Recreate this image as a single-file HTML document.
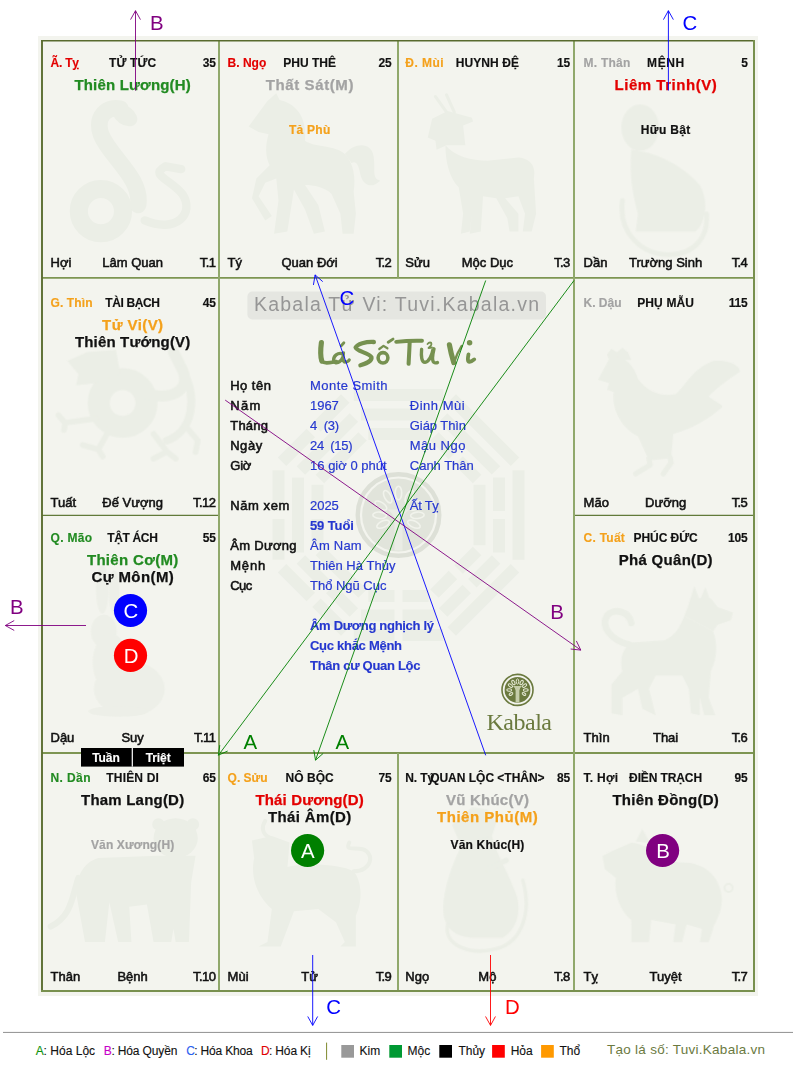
<!DOCTYPE html>
<html lang="vi"><head><meta charset="utf-8"><title>Lá Số Tử Vi</title>
<style>
html,body{margin:0;padding:0;background:#fff;}
body{width:796px;height:1070px;position:relative;overflow:hidden;font-family:"Liberation Sans",sans-serif;}
.t{position:absolute;white-space:pre;line-height:1;}
.big{z-index:3;}
#fgsvg{z-index:2;}
svg{position:absolute;left:0;top:0;}
.bx{position:absolute;}
.hdr{font:normal 700 12px/1 "Liberation Sans",sans-serif;-webkit-text-stroke:0.15px currentColor;}
.star{font:normal 700 15px/1 "Liberation Sans",sans-serif;-webkit-text-stroke:0.25px currentColor;}
.sub{font:normal 700 12px/1 "Liberation Sans",sans-serif;-webkit-text-stroke:0.2px currentColor;}
.bot{font:normal 400 13px/1 "Liberation Sans",sans-serif;-webkit-text-stroke:0.55px currentColor;}
.lbl{font:normal 400 13px/1 "Liberation Sans",sans-serif;-webkit-text-stroke:0.55px currentColor;}
.val{font:normal 400 13px/1 "Liberation Sans",sans-serif;-webkit-text-stroke:0.2px currentColor;}
.valb{font:normal 700 13px/1 "Liberation Sans",sans-serif;-webkit-text-stroke:0.15px currentColor;}
.big{font:normal 400 20.4px/1 "Liberation Sans",sans-serif;}
.ban{font:normal 400 19.5px/1 "Liberation Sans",sans-serif;}
.title{font:italic 700 32px/1 "Liberation Serif",serif;}
.kab{font:normal 400 24px/1 "Liberation Serif",serif;}
.leg{font:normal 400 12px/1 "Liberation Sans",sans-serif;-webkit-text-stroke:0.12px currentColor;}
.foot{font:normal 400 13.5px/1 "Liberation Sans",sans-serif;}
</style></head><body>
<svg id="bgsvg" width="796" height="1070" viewBox="0 0 796 1070">
<rect x="38" y="36" width="720" height="960" fill="#f3f4ee"/>
<defs><filter id="bl" x="-5%" y="-5%" width="110%" height="110%"><feGaussianBlur stdDeviation="0.7"/></filter></defs>
<g filter="url(#bl)">
<g transform="translate(43 90) scale(0.2211)" fill="#ebeee6" stroke="#ebeee6" stroke-linecap="round" stroke-linejoin="round" stroke-width="0" opacity="1.0"><circle cx="262" cy="548" r="100" fill="none" stroke-width="82"/><path d="M430 520C450 400 300 300 262 200C235 120 290 70 350 85" fill="none" stroke-width="75"/><ellipse cx="370" cy="115" rx="62" ry="42" transform="rotate(35 370 115)"/><path d="M460 590C600 650 690 560 630 470C570 400 480 385 555 345L625 358" fill="none" stroke-width="38"/></g>
<g transform="translate(221 90) scale(0.2211)" fill="#ebeee6" stroke="#ebeee6" stroke-linecap="round" stroke-linejoin="round" stroke-width="0" opacity="1.0"><path d="M125 165L210 50L250 15L265 45C330 60 390 110 380 230C420 260 520 250 560 290C600 330 610 400 600 460L610 560L600 650L550 650L540 560L500 470C470 440 420 430 380 430L440 520L470 640L420 650L380 540L330 450L300 640L240 650L260 500L250 400L200 420L170 480L230 570L200 590L140 490L160 400L220 340C200 300 200 250 215 200L170 190Z"  stroke-width="0"/><path d="M560 290C600 240 680 230 690 300C700 360 680 400 720 410C680 450 640 430 630 380C620 330 610 320 590 330Z"  stroke-width="0"/></g>
<g transform="translate(399 90) scale(0.2211)" fill="#ebeee6" stroke="#ebeee6" stroke-linecap="round" stroke-linejoin="round" stroke-width="0" opacity="1.0"><path d="M215 100L165 30M250 100L215 22" fill="none" stroke-width="14"/><path d="M130 215L150 130L220 95L330 125L335 142L290 160L300 250L215 250L170 270L165 230Z"  stroke-width="0"/><path d="M210 250C250 300 330 320 400 320L540 305C600 310 620 350 610 400L620 560L600 640L560 640L570 560L540 480L480 490L540 560L540 640L500 640L490 580L440 490L380 480L370 640L320 650L330 560L320 640L280 650L290 560L270 440C230 400 210 330 210 250Z"  stroke-width="0"/></g>
<g transform="translate(576 90) scale(0.2211)" fill="#ebeee6" stroke="#ebeee6" stroke-linecap="round" stroke-linejoin="round" stroke-width="0" opacity="1.0"><ellipse cx="290" cy="170" rx="85" ry="105"/><path d="M250 270C350 280 470 330 560 430C600 500 590 600 540 640L270 640L280 560C260 480 240 400 250 270Z"  stroke-width="0"/><path d="M210 500C190 650 300 745 420 745C540 745 600 660 590 560" fill="none" stroke-width="22"/></g>
<g transform="translate(43 330) scale(0.2211)" fill="#ebeee6" stroke="#ebeee6" stroke-linecap="round" stroke-linejoin="round" stroke-width="0" opacity="1.0"><circle cx="360" cy="330" r="108" fill="none" stroke-width="100"/><path d="M110 140L200 100L330 90L350 200L240 240L150 250L160 200Z"  stroke-width="0"/><path d="M470 290C600 320 680 260 620 160L590 100" fill="none" stroke-width="50"/><path d="M630 180C700 300 680 460 560 500" fill="none" stroke-width="36"/><path d="M240 400L100 420L70 385M100 420L95 452M300 450L250 540L180 520M250 540L270 572M500 470L560 550L500 582M560 550L600 582M640 430L700 500L690 552" fill="none" stroke-width="26"/></g>
<g transform="translate(576 330) scale(0.2211)" fill="#ebeee6" stroke="#ebeee6" stroke-linecap="round" stroke-linejoin="round" stroke-width="0" opacity="1.0"><path d="M140 110L160 85L185 100L210 80L235 100L250 135L150 135Z"  stroke-width="0"/><path d="M100 225L150 130C200 100 260 150 280 220C330 290 400 300 450 290C500 250 520 180 620 140C700 130 750 170 740 190C680 230 640 260 600 300C640 330 670 340 660 350C600 400 540 440 440 470L430 580L330 590L280 480C200 440 160 350 170 280L140 270L150 240Z"  stroke-width="0"/><path d="M330 580L335 610L270 650M425 575L430 600L395 650" fill="none" stroke-width="24"/></g>
<g transform="translate(43 565) scale(0.2211)" fill="#ebeee6" stroke="#ebeee6" stroke-linecap="round" stroke-linejoin="round" stroke-width="0" opacity="0.75"><ellipse cx="268" cy="110" rx="28" ry="110"/><ellipse cx="322" cy="125" rx="24" ry="100"/><ellipse cx="275" cy="300" rx="58" ry="75"/><ellipse cx="305" cy="440" rx="80" ry="130"/><ellipse cx="390" cy="560" rx="160" ry="125"/><ellipse cx="340" cy="662" rx="135" ry="24"/></g>
<g transform="translate(576 565) scale(0.2211)" fill="#ebeee6" stroke="#ebeee6" stroke-linecap="round" stroke-linejoin="round" stroke-width="0" opacity="1.0"><path d="M510 175L535 95L560 160L585 100L607 160Z"  stroke-width="0"/><path d="M490 230L520 150L610 150L640 190L710 215L700 250L640 270L620 300Z"  stroke-width="0"/><path d="M490 230C470 280 450 320 400 340L250 350C200 380 200 450 210 480L160 540L160 670L210 680L210 600L280 560L300 650L360 680L350 640L330 560L360 500L480 500L510 560L520 670L560 680L560 600L580 680L630 680L600 600L610 480C640 420 640 350 620 300Z"  stroke-width="0"/><path d="M240 360C160 340 110 280 140 230C170 190 240 210 250 262" fill="none" stroke-width="30"/></g>
<g transform="translate(43 805) scale(0.2211)" fill="#ebeee6" stroke="#ebeee6" stroke-linecap="round" stroke-linejoin="round" stroke-width="0" opacity="1.0"><ellipse cx="600" cy="150" rx="100" ry="90"/><circle cx="522" cy="88" r="28"/><circle cx="678" cy="88" r="28"/><path d="M520 230L250 240C180 260 150 330 150 400L190 620L280 620L300 440L340 620L400 620L390 460L470 450L500 620L580 620L590 560L600 620L660 620L670 350L690 230Z"  stroke-width="0"/><path d="M160 330C130 420 130 500 35 550" fill="none" stroke-width="28"/></g>
<g transform="translate(221 805) scale(0.2211)" fill="#ebeee6" stroke="#ebeee6" stroke-linecap="round" stroke-linejoin="round" stroke-width="0" opacity="1.0"><path d="M225 150C180 130 185 95 200 72" fill="none" stroke-width="18"/><path d="M140 160L230 140L310 170L300 290L210 300L150 240Z"  stroke-width="0"/><path d="M150 240C130 330 170 420 230 470L210 620L170 640L270 640L330 480L440 470L520 530L560 620L540 640L610 640L610 500C640 440 640 350 600 300C540 270 400 260 300 280Z"  stroke-width="0"/><path d="M600 300C680 300 700 220 640 200C600 190 560 210 580 170" fill="none" stroke-width="18"/></g>
<g transform="translate(399 805) scale(0.2211)" fill="#ebeee6" stroke="#ebeee6" stroke-linecap="round" stroke-linejoin="round" stroke-width="0" opacity="1.0"><path d="M240 90L330 10L400 20L440 80L420 140L330 180L270 160Z"  stroke-width="0"/><path d="M290 170C240 260 200 380 200 470C200 560 260 600 340 600L470 600C540 560 560 460 520 380C500 320 440 220 420 140Z"  stroke-width="0"/><path d="M400 290L485 250" fill="none" stroke-width="24"/><path d="M220 540C200 640 330 680 440 650C560 620 600 480 560 340" fill="none" stroke-width="16"/></g>
<g transform="translate(576 805) scale(0.2211)" fill="#ebeee6" stroke="#ebeee6" stroke-linecap="round" stroke-linejoin="round" stroke-width="0" opacity="1.0"><path d="M270 165L300 108L335 172Z"  stroke-width="0"/><path d="M120 230L160 210L250 170C350 180 400 260 480 260C580 260 650 320 660 420C660 500 620 540 620 560L600 620L560 620L570 560L500 540L480 620L440 620L450 540L340 520L330 620L250 620L250 520C200 480 170 400 180 330L130 290Z"  stroke-width="0"/><circle cx="690" cy="375" r="18" fill="none" stroke-width="9"/></g>
<g fill="#ebeee6"><g transform="rotate(0 398.5 515.0)"><rect x="368.3" y="428.0" width="60.4" height="12.0"/><rect x="361.0" y="408.5" width="74.9" height="12.0"/><rect x="353.8" y="389.0" width="89.5" height="12.0"/></g><g transform="rotate(45 398.5 515.0)"><rect x="368.3" y="428.0" width="26.2" height="12.0"/><rect x="402.5" y="428.0" width="26.2" height="12.0"/><rect x="361.0" y="408.5" width="74.9" height="12.0"/><rect x="353.8" y="389.0" width="89.5" height="12.0"/></g><g transform="rotate(90 398.5 515.0)"><rect x="368.3" y="428.0" width="60.4" height="12.0"/><rect x="361.0" y="408.5" width="33.5" height="12.0"/><rect x="402.5" y="408.5" width="33.5" height="12.0"/><rect x="353.8" y="389.0" width="89.5" height="12.0"/></g><g transform="rotate(135 398.5 515.0)"><rect x="368.3" y="428.0" width="26.2" height="12.0"/><rect x="402.5" y="428.0" width="26.2" height="12.0"/><rect x="361.0" y="408.5" width="33.5" height="12.0"/><rect x="402.5" y="408.5" width="33.5" height="12.0"/><rect x="353.8" y="389.0" width="89.5" height="12.0"/></g><g transform="rotate(180 398.5 515.0)"><rect x="368.3" y="428.0" width="26.2" height="12.0"/><rect x="402.5" y="428.0" width="26.2" height="12.0"/><rect x="361.0" y="408.5" width="33.5" height="12.0"/><rect x="402.5" y="408.5" width="33.5" height="12.0"/><rect x="353.8" y="389.0" width="40.7" height="12.0"/><rect x="402.5" y="389.0" width="40.7" height="12.0"/></g><g transform="rotate(225 398.5 515.0)"><rect x="368.3" y="428.0" width="60.4" height="12.0"/><rect x="361.0" y="408.5" width="33.5" height="12.0"/><rect x="402.5" y="408.5" width="33.5" height="12.0"/><rect x="353.8" y="389.0" width="40.7" height="12.0"/><rect x="402.5" y="389.0" width="40.7" height="12.0"/></g><g transform="rotate(270 398.5 515.0)"><rect x="368.3" y="428.0" width="26.2" height="12.0"/><rect x="402.5" y="428.0" width="26.2" height="12.0"/><rect x="361.0" y="408.5" width="74.9" height="12.0"/><rect x="353.8" y="389.0" width="40.7" height="12.0"/><rect x="402.5" y="389.0" width="40.7" height="12.0"/></g><g transform="rotate(315 398.5 515.0)"><rect x="368.3" y="428.0" width="60.4" height="12.0"/><rect x="361.0" y="408.5" width="74.9" height="12.0"/><rect x="353.8" y="389.0" width="40.7" height="12.0"/><rect x="402.5" y="389.0" width="40.7" height="12.0"/></g></g><circle cx="398.5" cy="515.0" r="40.8" fill="none" stroke="#dde0d7" stroke-width="4.4"/><circle cx="398.5" cy="515.0" r="36.4" fill="#e1e4db"/><g fill="none" stroke="#f1f3ec" stroke-width="1.6"><ellipse cx="398.5" cy="493.0" rx="3.2" ry="6.8" transform="rotate(0 398.5 493.0)"/><ellipse cx="409.3" cy="496.7" rx="3.2" ry="6.8" transform="rotate(28 409.3 496.7)"/><ellipse cx="387.7" cy="496.7" rx="3.2" ry="6.8" transform="rotate(-28 387.7 496.7)"/><ellipse cx="416.1" cy="505.6" rx="3.2" ry="6.8" transform="rotate(57 416.1 505.6)"/><ellipse cx="380.9" cy="505.6" rx="3.2" ry="6.8" transform="rotate(-57 380.9 505.6)"/><ellipse cx="417.4" cy="515.3" rx="3.2" ry="6.8" transform="rotate(85 417.4 515.3)"/><ellipse cx="379.6" cy="515.3" rx="3.2" ry="6.8" transform="rotate(275 379.6 515.3)"/><ellipse cx="413.9" cy="524.2" rx="3.2" ry="6.8" transform="rotate(115 413.9 524.2)"/><ellipse cx="383.1" cy="524.2" rx="3.2" ry="6.8" transform="rotate(245 383.1 524.2)"/></g><path d="M394.5 550.5v-30q0 -6 -7 -11h22q-7 5 -7 11v30z" fill="#eaece5"/>
</g>
<g fill="none">
<path d="M42 277.8H754M42 753H754" stroke="#7d9552" stroke-width="1.8"/>
<path d="M42 515.4H219M574 515.4H754" stroke="#617a3a" stroke-width="1.35"/>
<path d="M219 41V991M574 41V991M398 41V277.7M398 753V991" stroke="#90a86b" stroke-width="2"/>
<path d="M41 40.7H755" stroke="#586a2e" stroke-width="1.5"/>
<path d="M42 40V992" stroke="#5a6d30" stroke-width="1.9"/>
<path d="M754 40V992M41 991H755" stroke="#78904e" stroke-width="2"/>
</g>
<rect x="247.4" y="291.6" width="298.6" height="27.8" rx="5" fill="#e5e6e1"/>
<g id="title" fill="none" stroke="#769150" stroke-linecap="round" stroke-linejoin="round">
<path d="M321.4 342.6C320.4 350 320.5 357 321.8 361" stroke-width="5.15"/>
<path d="M321.8 361.3C324.5 364 330 362.6 336.5 361.6" stroke-width="3.70"/>
<path d="M342.8 353.9C338 352 332.8 356 333.7 361C335 364.6 341 362.6 342.9 357M343.5 352.8C342.8 357 342.5 362 345.2 362C347 362 348.6 361 349.2 360" stroke-width="3.25"/>
<path d="M341.2 345.8L343.9 342.8" stroke-width="2.80"/>
<path d="M373.9 342C366 341.5 357 344 355.6 347.6C356 351 369 353 371.4 357C372.4 361 365 364 360.4 365.3" stroke-width="4.26"/>
<ellipse cx="383" cy="357.8" rx="4.9" ry="5.2" stroke-width="3.58"/>
<path d="M379.3 349L383.5 345.9L387.4 348.3" stroke-width="2.24"/>
<path d="M388.2 342.3L393 339.1" stroke-width="2.91"/>
<path d="M396.2 341.9C404 341 414 340.6 422 340.8" stroke-width="3.92"/>
<path d="M409.7 341.6C409.4 349 409 357 408.6 363.8" stroke-width="4.03"/>
<path d="M421.6 349.3C421 356 421.5 362.4 425 362.4C429 362 432 355 432.9 349.9M434 348.8C432.5 355 431.5 362 434.5 362.7C436 363 437 362.8 437.5 362.5" stroke-width="3.36"/>
<path d="M427.5 344C429 342 431.5 342 431.5 344C431.5 346 429 347 428.5 348L432 347.5" stroke-width="1.79"/>
<path d="M449.4 344.8C450.5 351 452 357 453.8 362.6" stroke-width="5.15"/>
<path d="M453.9 362.8C456 356 459 350 461.7 345.9" stroke-width="2.35"/>
<path d="M468.5 354.4C468 357 467 361.8 469.5 361.8C471.5 361.6 473 360.5 474.2 359.4" stroke-width="3.81"/>
<circle cx="469.6" cy="342.8" r="1.3" stroke-width="2.91"/>
</g>
<rect x="81" y="748" width="103" height="18.6" fill="#000"/>
<rect x="131.7" y="748" width="1.2" height="18.6" fill="#fff"/>
<circle cx="130.5" cy="610.5" r="16.6" fill="#0000ff"/>
<circle cx="130.5" cy="655.4" r="16.6" fill="#ff0000"/>
<circle cx="307.6" cy="850.5" r="16.6" fill="#008000"/>
<circle cx="662.6" cy="850.5" r="16.6" fill="#800080"/>
<g id="logo">
<circle cx="517.5" cy="689.9" r="15.5" fill="none" stroke="#6b7a3f" stroke-width="1.6"/>
<circle cx="517.5" cy="689.9" r="12.9" fill="#6b7a3f"/>
<path d="M515.6 702.4V690.5q0-2.6-2.6-4.6h9q-2.6 2-2.6 4.6V702.4Z" fill="#c5cdaa"/>
<g fill="none" stroke="#e6ead6" stroke-width="1">
<ellipse cx="517.5" cy="681.5" rx="1.3" ry="2.6"/>
<ellipse cx="513.4" cy="682.6" rx="1.3" ry="2.4" transform="rotate(-28 513.4 682.6)"/>
<ellipse cx="521.6" cy="682.6" rx="1.3" ry="2.4" transform="rotate(28 521.6 682.6)"/>
<ellipse cx="510.4" cy="685.6" rx="1.3" ry="2.4" transform="rotate(-55 510.4 685.6)"/>
<ellipse cx="524.6" cy="685.6" rx="1.3" ry="2.4" transform="rotate(55 524.6 685.6)"/>
<ellipse cx="509.2" cy="690" rx="1.3" ry="2.4" transform="rotate(-85 509.2 690)"/>
<ellipse cx="525.8" cy="690" rx="1.3" ry="2.4" transform="rotate(85 525.8 690)"/>
<ellipse cx="511" cy="694" rx="1.1" ry="2" transform="rotate(-120 511 694)"/>
<ellipse cx="524" cy="694" rx="1.1" ry="2" transform="rotate(120 524 694)"/>
</g></g>
<!-- legend -->
<rect x="3" y="1031.9" width="790" height="1.1" fill="#9a9a9a"/>
<rect x="326" y="1042.6" width="1.1" height="17.2" fill="#8a9440"/>
<rect x="341.3" y="1045" width="12.7" height="12.7" fill="#999999"/>
<rect x="389.3" y="1045" width="12.7" height="12.7" fill="#009933"/>
<rect x="439.3" y="1045" width="12.7" height="12.7" fill="#000000"/>
<rect x="492.1" y="1045" width="12.7" height="12.7" fill="#ff0000"/>
<rect x="541.1" y="1045" width="12.7" height="12.7" fill="#ff9900"/>
</svg>
<span id="t0" class="t hdr" style="left:50.50px;top:56.64px;color:#e30000;letter-spacing:-0.211px;">Ã. Tỵ</span>
<span id="t1" class="t hdr" style="left:109.10px;top:56.64px;color:#111111;letter-spacing:0.084px;">TỬ TỨC</span>
<span id="t2" class="t hdr" style="left:202.64px;top:56.64px;color:#111111;letter-spacing:-0.100px;">35</span>
<span id="t3" class="t star" style="left:74.40px;top:76.70px;color:#228b22;letter-spacing:0.183px;">Thiên Lương(H)</span>
<span id="t4" class="t bot" style="left:50.50px;top:256.10px;color:#111111;">Hợi</span>
<span id="t5" class="t bot" style="left:102.25px;top:256.10px;color:#111111;">Lâm Quan</span>
<span id="t6" class="t bot" style="left:199.76px;top:256.10px;color:#111111;letter-spacing:-0.600px;">T.1</span>
<span id="t7" class="t hdr" style="left:227.60px;top:56.64px;color:#e30000;letter-spacing:0.006px;">B. Ngọ</span>
<span id="t8" class="t hdr" style="left:283.30px;top:56.64px;color:#111111;letter-spacing:-0.012px;">PHU THÊ</span>
<span id="t9" class="t hdr" style="left:378.54px;top:56.64px;color:#111111;letter-spacing:-0.100px;">25</span>
<span id="t10" class="t star" style="left:265.80px;top:76.70px;color:#a3a3a3;letter-spacing:0.593px;">Thất Sát(M)</span>
<span id="t11" class="t sub" style="left:288.95px;top:124.14px;color:#f4a11c;letter-spacing:0.257px;">Tả Phù</span>
<span id="t12" class="t bot" style="left:227.60px;top:256.10px;color:#111111;">Tý</span>
<span id="t13" class="t bot" style="left:281.49px;top:256.10px;color:#111111;">Quan Đới</span>
<span id="t14" class="t bot" style="left:375.66px;top:256.10px;color:#111111;letter-spacing:-0.600px;">T.2</span>
<span id="t15" class="t hdr" style="left:405.30px;top:56.64px;color:#f4a11c;letter-spacing:0.440px;">Đ. Mùi</span>
<span id="t16" class="t hdr" style="left:455.75px;top:56.64px;color:#111111;letter-spacing:0.090px;">HUYNH ĐỆ</span>
<span id="t17" class="t hdr" style="left:556.94px;top:56.64px;color:#111111;letter-spacing:-0.100px;">15</span>
<span id="t18" class="t bot" style="left:405.30px;top:256.10px;color:#111111;">Sửu</span>
<span id="t19" class="t bot" style="left:461.75px;top:256.10px;color:#111111;">Mộc Dục</span>
<span id="t20" class="t bot" style="left:554.06px;top:256.10px;color:#111111;letter-spacing:-0.600px;">T.3</span>
<span id="t21" class="t hdr" style="left:583.60px;top:56.64px;color:#a3a3a3;letter-spacing:0.229px;">M. Thân</span>
<span id="t22" class="t hdr" style="left:647.10px;top:56.64px;color:#111111;letter-spacing:0.552px;">MỆNH</span>
<span id="t23" class="t hdr" style="left:741.21px;top:56.64px;color:#111111;letter-spacing:-0.100px;">5</span>
<span id="t24" class="t star" style="left:614.50px;top:76.70px;color:#e30000;letter-spacing:0.530px;">Liêm Trinh(V)</span>
<span id="t25" class="t sub" style="left:640.85px;top:124.14px;color:#111111;letter-spacing:0.357px;">Hữu Bật</span>
<span id="t26" class="t bot" style="left:583.60px;top:256.10px;color:#111111;">Dần</span>
<span id="t27" class="t bot" style="left:629.05px;top:256.10px;color:#111111;">Trường Sinh</span>
<span id="t28" class="t bot" style="left:731.66px;top:256.10px;color:#111111;letter-spacing:-0.600px;">T.4</span>
<span id="t29" class="t hdr" style="left:50.50px;top:296.54px;color:#f4a11c;letter-spacing:0.112px;">G. Thìn</span>
<span id="t30" class="t hdr" style="left:105.35px;top:296.54px;color:#111111;letter-spacing:-0.404px;">TÀI BẠCH</span>
<span id="t31" class="t hdr" style="left:202.64px;top:296.54px;color:#111111;letter-spacing:-0.100px;">45</span>
<span id="t32" class="t star" style="left:102.10px;top:316.60px;color:#f4a11c;letter-spacing:0.415px;">Tử Vi(V)</span>
<span id="t33" class="t star" style="left:74.90px;top:333.80px;color:#111111;letter-spacing:0.170px;">Thiên Tướng(V)</span>
<span id="t34" class="t bot" style="left:50.50px;top:495.90px;color:#111111;">Tuất</span>
<span id="t35" class="t bot" style="left:102.30px;top:495.90px;color:#111111;">Đế Vượng</span>
<span id="t36" class="t bot" style="left:193.12px;top:495.90px;color:#111111;letter-spacing:-0.600px;">T.12</span>
<span id="t37" class="t hdr" style="left:583.60px;top:296.54px;color:#a3a3a3;letter-spacing:-0.023px;">K. Dậu</span>
<span id="t38" class="t hdr" style="left:637.20px;top:296.54px;color:#111111;letter-spacing:0.133px;">PHỤ MẪU</span>
<span id="t39" class="t hdr" style="left:728.64px;top:296.54px;color:#111111;letter-spacing:-0.100px;">115</span>
<span id="t40" class="t bot" style="left:583.60px;top:495.90px;color:#111111;">Mão</span>
<span id="t41" class="t bot" style="left:645.06px;top:495.90px;color:#111111;">Dưỡng</span>
<span id="t42" class="t bot" style="left:731.66px;top:495.90px;color:#111111;letter-spacing:-0.600px;">T.5</span>
<span id="t43" class="t hdr" style="left:50.50px;top:531.74px;color:#228b22;letter-spacing:0.297px;">Q. Mão</span>
<span id="t44" class="t hdr" style="left:107.35px;top:531.74px;color:#111111;letter-spacing:-0.362px;">TẬT ÁCH</span>
<span id="t45" class="t hdr" style="left:202.64px;top:531.74px;color:#111111;letter-spacing:-0.100px;">55</span>
<span id="t46" class="t star" style="left:86.90px;top:551.80px;color:#228b22;letter-spacing:0.324px;">Thiên Cơ(M)</span>
<span id="t47" class="t star" style="left:91.40px;top:569.00px;color:#111111;letter-spacing:0.404px;">Cự Môn(M)</span>
<span id="t48" class="t bot" style="left:50.50px;top:730.90px;color:#111111;">Dậu</span>
<span id="t49" class="t bot" style="left:121.40px;top:730.90px;color:#111111;">Suy</span>
<span id="t50" class="t bot" style="left:194.09px;top:730.90px;color:#111111;letter-spacing:-0.600px;">T.11</span>
<span id="t51" class="t hdr" style="left:583.60px;top:531.74px;color:#f4a11c;letter-spacing:0.236px;">C. Tuất</span>
<span id="t52" class="t hdr" style="left:633.45px;top:531.74px;color:#111111;letter-spacing:-0.046px;">PHÚC ĐỨC</span>
<span id="t53" class="t hdr" style="left:727.97px;top:531.74px;color:#111111;letter-spacing:-0.100px;">105</span>
<span id="t54" class="t star" style="left:618.65px;top:551.80px;color:#111111;letter-spacing:0.306px;">Phá Quân(D)</span>
<span id="t55" class="t bot" style="left:583.60px;top:730.90px;color:#111111;">Thìn</span>
<span id="t56" class="t bot" style="left:652.95px;top:730.90px;color:#111111;">Thai</span>
<span id="t57" class="t bot" style="left:731.66px;top:730.90px;color:#111111;letter-spacing:-0.600px;">T.6</span>
<span id="t58" class="t hdr" style="left:50.50px;top:771.74px;color:#228b22;letter-spacing:0.397px;">N. Dần</span>
<span id="t59" class="t hdr" style="left:106.35px;top:771.74px;color:#111111;letter-spacing:0.165px;">THIÊN DI</span>
<span id="t60" class="t hdr" style="left:202.64px;top:771.74px;color:#111111;letter-spacing:-0.100px;">65</span>
<span id="t61" class="t star" style="left:81.05px;top:791.80px;color:#111111;letter-spacing:0.207px;">Tham Lang(D)</span>
<span id="t62" class="t sub" style="left:91.00px;top:839.24px;color:#a3a3a3;letter-spacing:0.119px;">Văn Xương(H)</span>
<span id="t63" class="t bot" style="left:50.50px;top:970.40px;color:#111111;">Thân</span>
<span id="t64" class="t bot" style="left:117.41px;top:970.40px;color:#111111;">Bệnh</span>
<span id="t65" class="t bot" style="left:193.12px;top:970.40px;color:#111111;letter-spacing:-0.600px;">T.10</span>
<span id="t66" class="t hdr" style="left:227.60px;top:771.74px;color:#f4a11c;letter-spacing:-0.006px;">Q. Sửu</span>
<span id="t67" class="t hdr" style="left:285.50px;top:771.74px;color:#111111;letter-spacing:0.040px;">NÔ BỘC</span>
<span id="t68" class="t hdr" style="left:378.54px;top:771.74px;color:#111111;letter-spacing:-0.100px;">75</span>
<span id="t69" class="t star" style="left:255.50px;top:791.80px;color:#e30000;letter-spacing:0.140px;">Thái Dương(D)</span>
<span id="t70" class="t star" style="left:268.05px;top:809.00px;color:#111111;letter-spacing:0.344px;">Thái Âm(D)</span>
<span id="t71" class="t bot" style="left:227.60px;top:970.40px;color:#111111;">Mùi</span>
<span id="t72" class="t bot" style="left:301.27px;top:970.40px;color:#111111;">Tử</span>
<span id="t73" class="t bot" style="left:375.66px;top:970.40px;color:#111111;letter-spacing:-0.600px;">T.9</span>
<span id="t74" class="t hdr" style="left:405.30px;top:771.74px;color:#111111;letter-spacing:-0.100px;">N. Tý</span>
<span id="t75" class="t hdr" style="left:430.15px;top:771.74px;color:#111111;letter-spacing:-0.013px;">QUAN LỘC &lt;THÂN&gt;</span>
<span id="t76" class="t hdr" style="left:556.94px;top:771.74px;color:#111111;letter-spacing:-0.100px;">85</span>
<span id="t77" class="t star" style="left:445.90px;top:791.80px;color:#a3a3a3;letter-spacing:0.240px;">Vũ Khúc(V)</span>
<span id="t78" class="t star" style="left:437.10px;top:809.00px;color:#f4a11c;letter-spacing:0.511px;">Thiên Phủ(M)</span>
<span id="t79" class="t sub" style="left:450.50px;top:839.24px;color:#111111;letter-spacing:0.180px;">Văn Khúc(H)</span>
<span id="t80" class="t bot" style="left:405.30px;top:970.40px;color:#111111;">Ngọ</span>
<span id="t81" class="t bot" style="left:478.37px;top:970.40px;color:#111111;">Mộ</span>
<span id="t82" class="t bot" style="left:554.06px;top:970.40px;color:#111111;letter-spacing:-0.600px;">T.8</span>
<span id="t83" class="t hdr" style="left:583.60px;top:771.74px;color:#111111;letter-spacing:0.239px;">T. Hợi</span>
<span id="t84" class="t hdr" style="left:629.10px;top:771.74px;color:#111111;letter-spacing:-0.111px;">ĐIỀN TRẠCH</span>
<span id="t85" class="t hdr" style="left:734.54px;top:771.74px;color:#111111;letter-spacing:-0.100px;">95</span>
<span id="t86" class="t star" style="left:612.40px;top:791.80px;color:#111111;letter-spacing:0.257px;">Thiên Đồng(D)</span>
<span id="t87" class="t bot" style="left:583.60px;top:970.40px;color:#111111;">Tỵ</span>
<span id="t88" class="t bot" style="left:649.58px;top:970.40px;color:#111111;">Tuyệt</span>
<span id="t89" class="t bot" style="left:731.66px;top:970.40px;color:#111111;letter-spacing:-0.600px;">T.7</span>
<span id="t90" class="t lbl" style="left:230.20px;top:378.70px;color:#111111;letter-spacing:0.478px;">Họ tên</span>
<span id="t91" class="t lbl" style="left:230.20px;top:398.70px;color:#111111;letter-spacing:1.373px;">Năm</span>
<span id="t92" class="t lbl" style="left:230.20px;top:418.70px;color:#111111;letter-spacing:0.256px;">Tháng</span>
<span id="t93" class="t lbl" style="left:230.20px;top:438.70px;color:#111111;letter-spacing:0.547px;">Ngày</span>
<span id="t94" class="t lbl" style="left:230.20px;top:458.70px;color:#111111;letter-spacing:-0.166px;">Giờ</span>
<span id="t95" class="t lbl" style="left:230.20px;top:498.70px;color:#111111;letter-spacing:0.579px;">Năm xem</span>
<span id="t96" class="t lbl" style="left:230.20px;top:538.70px;color:#111111;letter-spacing:0.316px;">Âm Dương</span>
<span id="t97" class="t lbl" style="left:230.20px;top:558.70px;color:#111111;letter-spacing:0.823px;">Mệnh</span>
<span id="t98" class="t lbl" style="left:230.20px;top:578.70px;color:#111111;letter-spacing:-0.562px;">Cục</span>
<span id="t99" class="t val" style="left:310.00px;top:378.70px;color:#2638cf;letter-spacing:0.452px;">Monte Smith</span>
<span id="t100" class="t val" style="left:310.00px;top:398.70px;color:#2638cf;letter-spacing:-0.041px;">1967</span>
<span id="t101" class="t val" style="left:310.00px;top:418.70px;color:#2638cf;letter-spacing:-0.269px;">4  (3)</span>
<span id="t102" class="t val" style="left:310.00px;top:438.70px;color:#2638cf;letter-spacing:-0.330px;">24  (15)</span>
<span id="t103" class="t val" style="left:310.00px;top:458.70px;color:#2638cf;letter-spacing:0.018px;">16 giờ 0 phút</span>
<span id="t104" class="t val" style="left:310.00px;top:498.70px;color:#2638cf;letter-spacing:-0.041px;">2025</span>
<span id="t105" class="t val" style="left:310.00px;top:538.70px;color:#2638cf;letter-spacing:0.228px;">Âm Nam</span>
<span id="t106" class="t val" style="left:310.00px;top:558.70px;color:#2638cf;letter-spacing:0.039px;">Thiên Hà Thủy</span>
<span id="t107" class="t val" style="left:310.00px;top:578.70px;color:#2638cf;letter-spacing:-0.019px;">Thổ Ngũ Cục</span>
<span id="t108" class="t val" style="left:409.80px;top:398.70px;color:#2638cf;letter-spacing:0.500px;">Đinh Mùi</span>
<span id="t109" class="t val" style="left:409.80px;top:418.70px;color:#2638cf;letter-spacing:-0.070px;">Giáp Thìn</span>
<span id="t110" class="t val" style="left:409.80px;top:438.70px;color:#2638cf;letter-spacing:0.475px;">Mậu Ngọ</span>
<span id="t111" class="t val" style="left:409.80px;top:458.70px;color:#2638cf;letter-spacing:-0.012px;">Canh Thân</span>
<span id="t112" class="t val" style="left:409.80px;top:498.70px;color:#2638cf;letter-spacing:-0.277px;">Ất Tỵ</span>
<span id="t113" class="t valb" style="left:310.00px;top:518.70px;color:#2638cf;letter-spacing:-0.108px;">59 Tuổi</span>
<span id="t114" class="t valb" style="left:310.00px;top:618.70px;color:#2638cf;letter-spacing:-0.303px;">Âm Dương nghịch lý</span>
<span id="t115" class="t valb" style="left:310.00px;top:638.70px;color:#2638cf;letter-spacing:-0.280px;">Cục khắc Mệnh</span>
<span id="t116" class="t valb" style="left:310.00px;top:658.70px;color:#2638cf;letter-spacing:-0.292px;">Thân cư Quan Lộc</span>
<span id="t117" class="t hdr" style="left:92.26px;top:751.84px;color:#ffffff;letter-spacing:-0.100px;">Tuần</span>
<span id="t118" class="t hdr" style="left:145.73px;top:751.84px;color:#ffffff;letter-spacing:-0.100px;">Triệt</span>
<span id="t119" class="t big" style="left:150.00px;top:12.63px;color:#800080;">B</span>
<span id="t120" class="t big" style="left:682.50px;top:12.83px;color:#0000ff;">C</span>
<span id="t121" class="t big" style="left:10.10px;top:597.33px;color:#800080;">B</span>
<span id="t122" class="t big" style="left:326.20px;top:997.43px;color:#0000ff;">C</span>
<span id="t123" class="t big" style="left:504.90px;top:997.43px;color:#ff0000;">D</span>
<span id="t124" class="t big" style="left:339.60px;top:287.73px;color:#0000ff;">C</span>
<span id="t125" class="t big" style="left:550.30px;top:602.33px;color:#800080;">B</span>
<span id="t126" class="t big" style="left:243.60px;top:731.83px;color:#008000;">A</span>
<span id="t127" class="t big" style="left:335.60px;top:731.83px;color:#008000;">A</span>
<span id="t128" class="t big" style="left:123.43px;top:600.73px;color:#ffffff;">C</span>
<span id="t129" class="t big" style="left:123.83px;top:645.63px;color:#ffffff;">D</span>
<span id="t130" class="t big" style="left:301.00px;top:840.53px;color:#ffffff;">A</span>
<span id="t131" class="t big" style="left:656.20px;top:840.53px;color:#ffffff;">B</span>
<span id="t132" class="t ban" style="left:254.00px;top:295.09px;color:#969696;letter-spacing:1.226px;">Kabala Tử Vi: Tuvi.Kabala.vn</span>
<span id="t133" class="t kab" style="left:486.50px;top:709.60px;color:#6b7a3f;letter-spacing:-0.494px;">Kabala</span>
<span id="t134" class="t leg" style="left:35.80px;top:1044.94px;color:#109410;">A</span>
<span id="t135" class="t leg" style="left:43.60px;top:1044.94px;color:#111;letter-spacing:0.016px;">: Hóa Lộc</span>
<span id="t136" class="t leg" style="left:103.80px;top:1044.94px;color:#c800c8;">B</span>
<span id="t137" class="t leg" style="left:111.40px;top:1044.94px;color:#111;letter-spacing:-0.138px;">: Hóa Quyền</span>
<span id="t138" class="t leg" style="left:186.30px;top:1044.94px;color:#2a60f0;">C</span>
<span id="t139" class="t leg" style="left:194.20px;top:1044.94px;color:#111;letter-spacing:-0.161px;">: Hóa Khoa</span>
<span id="t140" class="t leg" style="left:261.00px;top:1044.94px;color:#e00000;">D</span>
<span id="t141" class="t leg" style="left:269.00px;top:1044.94px;color:#111;letter-spacing:-0.155px;">: Hóa Kị</span>
<span id="t142" class="t leg" style="left:359.60px;top:1044.94px;color:#111;">Kim</span>
<span id="t143" class="t leg" style="left:407.60px;top:1044.94px;color:#111;">Mộc</span>
<span id="t144" class="t leg" style="left:458.40px;top:1044.94px;color:#111;">Thủy</span>
<span id="t145" class="t leg" style="left:510.70px;top:1044.94px;color:#111;">Hỏa</span>
<span id="t146" class="t leg" style="left:559.40px;top:1044.94px;color:#111;">Thổ</span>
<span id="t147" class="t foot" style="left:607.00px;top:1042.97px;color:#6b7a3f;letter-spacing:0.267px;">Tạo lá số: Tuvi.Kabala.vn</span>
<svg id="fgsvg" width="796" height="1070" viewBox="0 0 796 1070">
<path d="M135.50 90.60L135.50 10.70M135.50 10.70L130.55 19.62M135.50 10.70L140.45 19.62" stroke="#800080" stroke-width="0.9" fill="none"/>
<path d="M668.40 90.50L668.40 10.70M668.40 10.70L663.45 19.62M668.40 10.70L673.35 19.62" stroke="#0000ff" stroke-width="0.9" fill="none"/>
<path d="M86.00 625.50L5.30 625.50M5.30 625.50L14.22 630.45M5.30 625.50L14.22 620.55" stroke="#800080" stroke-width="0.9" fill="none"/>
<path d="M312.70 955.00L312.70 1025.40M312.70 1025.40L317.65 1016.48M312.70 1025.40L307.75 1016.48" stroke="#0000ff" stroke-width="0.9" fill="none"/>
<path d="M490.50 955.00L490.50 1025.40M490.50 1025.40L495.45 1016.48M490.50 1025.40L485.55 1016.48" stroke="#ff0000" stroke-width="0.9" fill="none"/>
<path d="M485.70 755.30L315.10 274.90M315.10 274.90L313.43 284.96M315.10 274.90L322.75 281.65" stroke="#0000ff" stroke-width="0.9" fill="none"/>
<path d="M225.20 400.10L580.80 650.10M580.80 650.10L576.35 640.92M580.80 650.10L570.66 649.01" stroke="#800080" stroke-width="0.9" fill="none"/>
<path d="M485.70 280.50L315.50 760.20M315.50 760.20L323.14 753.45M315.50 760.20L313.82 750.14" stroke="#008000" stroke-width="0.9" fill="none"/>
<path d="M574.00 280.50L218.40 755.20M218.40 755.20L227.71 751.02M218.40 755.20L219.79 745.10" stroke="#008000" stroke-width="0.9" fill="none"/>
</svg>
</body></html>
